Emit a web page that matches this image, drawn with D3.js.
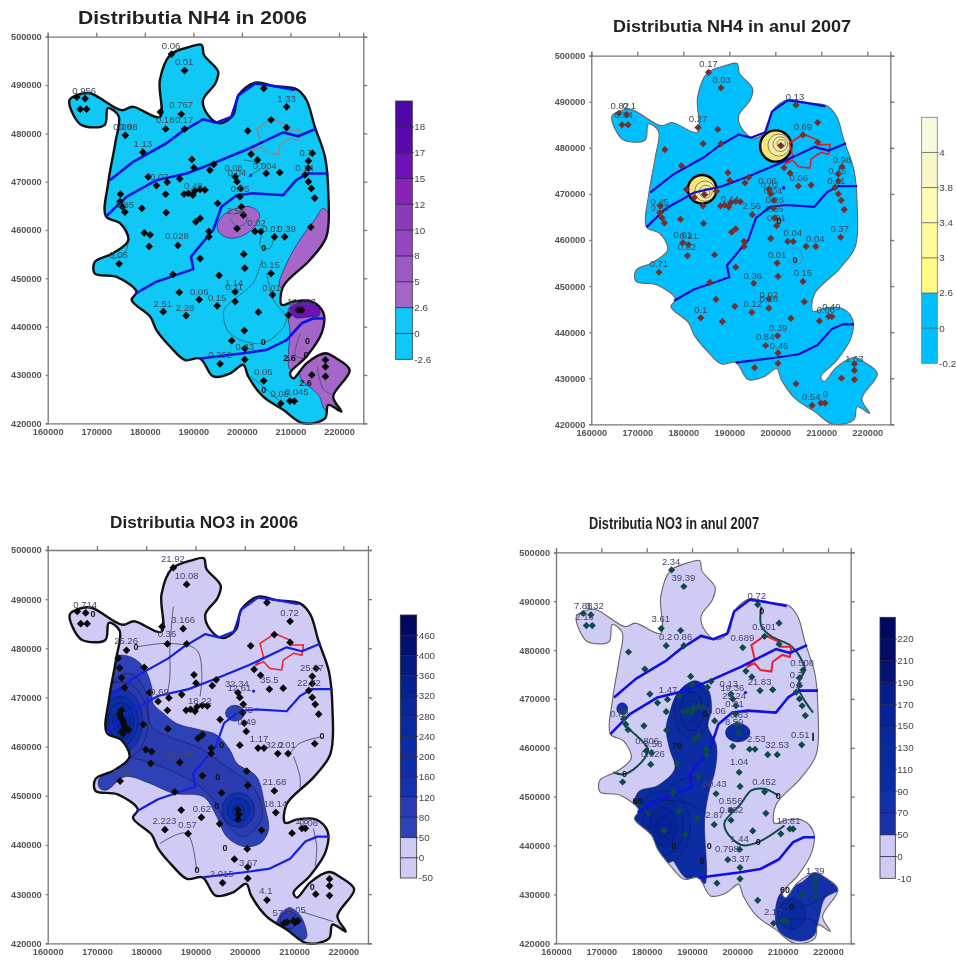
<!DOCTYPE html>
<html><head><meta charset="utf-8">
<style>html,body{margin:0;background:#fff}svg{display:block;filter:blur(.45px)}text{font-family:"Liberation Sans",Arial,sans-serif}</style>
<script src="https://cdnjs.cloudflare.com/ajax/libs/d3/7.8.5/d3.min.js"></script>
</head><body><svg id="c" width="956" height="961"></svg>
<script>
// All map coordinates in kilometres (axis value / 1000)
const X_TICKS=[160,170,180,190,200,210,220];
const Y_TICKS=[420,430,440,450,460,470,480,490,500];
const BOUNDARY=[[185.2,496.2],[189.3,497.9],[191.7,498.3],[192.2,496.2],[195.1,492.8],[194.5,490.3],[192,486.9],[193,483.8],[195.5,482.1],[198.2,483.8],[199.3,487.9],[202.7,490.5],[206.5,489.8],[211.3,489.1],[213.3,486.9],[215,481.4],[217.1,475.2],[217.8,467.6],[217.4,458.6],[214,453.8],[208.5,448.3],[208.2,444.5],[210.6,445.2],[214.4,445.2],[216.8,442.8],[216.4,438.6],[213.3,433.8],[209.9,430.3],[210.6,429.3],[213.3,432.4],[217.1,434.5],[219.5,433.4],[222.2,431],[218.8,425.5],[220.5,422.4],[217.8,423.8],[217.1,421],[212.6,420],[208.5,422.8],[204.4,425.5],[201.3,429.7],[200.3,432.1],[197.5,430.3],[194.1,429.7],[191.4,433.4],[188.3,433.1],[185.2,435.9],[182.4,439.3],[181.1,442.1],[177.3,445.5],[178.3,447.2],[174.2,450.3],[169.7,451],[169.7,453.4],[173.5,455.2],[176.6,457.9],[174.9,461.4],[172,462.8],[172.5,470],[173.9,477.9],[174.6,483.6],[172.4,485.2],[171.7,481.7],[167,481.7],[165.3,483.8],[164.5,486.9],[166,487.9],[168.7,488.3],[175.2,484.8],[177.5,485.5],[183.1,483.4],[183.1,491]];
const RIVER_1=[[172.8,470.3],[177.6,474.1],[184.4,477.9],[187.6,480.3],[192,482.9],[194.7,482.2],[197.8,483.4],[199.3,487.9],[202.7,490.3],[206.5,489.8],[210.9,489]];
const RIVER_2=[[172,462.8],[176.3,466.9],[182.4,470.3],[188.6,471.7],[194.1,473.8],[200.9,476.6],[208.5,480.2],[211.6,479.4],[215.4,481]];
const RIVER_3=[[178,446.8],[182.4,449.3],[190,451.9],[189.5,454.5],[194.1,460],[195.8,464.8],[198.9,467.2],[202.3,467.6],[208.5,467.2],[211.2,470.3],[213.6,471.7],[217.8,471.7]];
const RIVER_4=[[191.4,433.4],[200.3,434.5],[205.1,435.2],[209.2,437.2],[212.3,440.7],[214.7,441.7],[217.1,441.7]];
const RIVERS=[RIVER_1,RIVER_2,RIVER_3,RIVER_4];
const BLUE_DOT=[201.8,471.3];
const TOWN=[[202.1,476.5],[203.8,478.3],[203.1,481],[206.1,483],[209.2,481.7],[209.5,480.7],[211.9,480.7],[211.6,478.6],[209.9,479],[207.8,477.6],[207.5,475.6],[205.1,475.9],[203.8,477.3]];
const WELLS=[[185.5,496.4],[188.2,493],[166,487.5],[167.7,487.2],[166.7,485],[168,485],[183.2,484.4],[187.5,484],[184.3,480.9],[188.2,480.9],[176,479.6],[179.6,476.1],[189.7,474.6],[190.1,472.9],[193.4,472.4],[194.2,473.6],[180.7,471],[182.4,469.2],[184.6,469.9],[187.2,470.6],[184.3,467.4],[188.1,467.4],[189,467.6],[189.9,467.2],[190.3,468.1],[191.4,468.4],[192.4,468.3],[175,467.4],[174.9,465.9],[175.4,464.8],[175.9,463.7],[179.4,464.5],[184.4,463.6],[195,465.5],[191.4,462.4],[190.5,461.7],[179.9,459.4],[181.1,459],[180.9,456.6],[186.8,456.8],[193.2,459.7],[193.2,458.6],[174.7,453],[191.4,454.1],[185.8,450.8],[195.3,450.6],[187.1,447.1],[191.2,445.6],[183.8,443.1],[188.5,442.3],[194.9,444.3],[198.6,447.2],[198.6,445.2],[203.4,443],[200.5,439.2],[197.9,437.1],[200.6,435.5],[200.6,433.2],[195.5,432.3],[204.5,428.8],[208,424.1],[209.9,424.6],[210.8,424.6],[214.4,430],[217.2,433.1],[217.2,431.7],[217.2,429.7],[209.6,442.4],[211.6,443.4],[212.3,443.4],[206.3,446.6],[206,451],[200.6,452.1],[200.4,455],[199,460.3],[202.7,459.7],[203.9,459.7],[206.7,458.6],[208.8,458.6],[214.2,460.6],[215,466.6],[214.3,468.6],[213.7,470],[213,471.4],[213.7,474.3],[213.7,472.8],[214.5,475.9],[209.2,481.2],[209.2,485.5],[206,482.8],[204.5,489.3],[201.2,480.5],[201.9,475.7],[203.2,474.5],[205,471.7],[207.8,471.9],[198.6,471],[199,470],[199.7,468.6],[199.6,466.9],[199.9,464.8],[200.3,463.1]];
const EXTRA_WELLS_NO3_06=[[175,463],[175.6,464.2],[174.6,466.6],[175.2,465.4],[176.4,463.4],[174.6,476],[175,474],[175.6,472],[174.3,478],[198.8,446.2],[208.6,424.3],[210.2,424.2],[175.3,462.6]];

// NH4 2006 colour bar
const NH406_LABELS=["-2.6","0","2.6","5","8","10","12","15","17","18"];
const NH406_COLORS=["#10C8F6","#10C8F6","#A566C8","#9C5AC6","#9448BE","#8A3CB8","#8A22B8","#6E12B8","#5A08B0","#4E08A8"];
// NH4 2007 colour bar
const NH407_LABELS=["-0.2","0","2.6","3","3.4","3.8","4"];
const NH407_COLORS=["#00BFFF","#00BFFF","#FFFA88","#FFFB9C","#FFFCB4","#F6F8C8","#F8FAE0"];
// NO3 2006 colour bar
const NO306_LABELS=["-50","0","50","80","120","160","200","240","280","320","360","400","460"];
const NO306_COLORS=["#CFCBF5","#CFCBF5","#2E42B8","#2A3CB0","#1232AE","#0C2EA8","#0A2CA4","#0A2AA0","#082698","#062090","#041A80","#021070","#000860"];
// NO3 2007 colour bar
const NO307_LABELS=["-10","0","50","70","90","110","130","150","170","190","210","220"];
const NO307_COLORS=["#CFCBF5","#CFCBF5","#1A30A8","#1230A8","#0C2CA4","#0A2AA0","#08289C","#062498","#061E8C","#041470","#020C66","#000860"];

// Filled bands: [colour index, outline]
const NH406_BLOB=[[194.9,460.7],[196.2,463.1],[198.9,464.5],[201.7,464.8],[203.6,463.4],[203.1,461.4],[201,459.3],[198.2,458.3],[195.8,459]];
const NH406_EAST=[[216.8,464.5],[218.5,462],[218,457],[214,453.5],[208.5,447.8],[207.7,448.6],[209.2,453.1],[211.9,457.9],[215,462.1]];
const NH406_SE=[[209.8,444.1],[214.7,446],[217.5,443],[217,438.6],[213.3,433.3],[209.9,431.2],[209.6,434.5],[209.9,438.6]];
const NH406_SE_DARK=[[209.9,443.8],[215,445.6],[216,442.4],[213.5,442],[211,441.9]];
const NH406_FAR=[[212,431],[216,434],[219.5,434],[223,431],[219,425],[220,422],[217.1,422.8],[216,425.5],[214.4,427.2],[212.3,429]];
const NH406_BANDS=[[2,NH406_BLOB],[2,NH406_EAST],[2,NH406_SE],[7,NH406_SE_DARK],[2,NH406_FAR]];
const NH406_LINES=[[[173.5,462.1],[175.9,460.7],[176.6,457.9],[175.6,454.8],[173.2,454.1]],[[204.2,459.3],[203.8,456.6],[205.8,456.2],[206.5,458.6]],[[204.1,453.8],[202.3,449],[198.2,445.5],[196.3,443.4],[197.5,438.6],[204.4,436.6],[209.2,441.4],[206.5,445.5],[205.1,451]],[[200.3,474.5],[204.4,473.4],[201.2,471]],[[201.9,429.7],[207.6,424.8]],[[197.5,462.5],[199,460.7],[201,461.8],[200.3,463.6],[198.2,463.2]],[[212,438.5],[211,434],[213,433.5]],[[215.5,431.8],[216.8,427],[218.5,426]]];
const NH406_MARKS=[[204.5,456.4,"0"],[204.4,436.8,"0"],[204.5,427,"0"],[209.8,433.5,"2.6"],[213.1,428.3,"2.6"],[213.5,437,"0"],[213.2,434.2,"0"]];

const NH407_LINES=[[[203.3,458.2],[205,458],[206,456],[204.5,454.5],[202.5,455.5]]];
const NH407_MARKS=[[204.3,455.6,"0"],[200.8,464.1,"0"]];
const NH407_SPOTS=[[200.1,480.4,3.4,3.4],[184.1,471,3.1,3.1]];
const NH407_SPOT_RINGS=[[200.8,480.6,2.4,2.4],[201.1,480.8,1.6,1.6],[201.3,480.9,.9,.9],[184.7,470.6,2.2,2.2],[184.9,470.5,1.4,1.4],[185,470.4,.8,.8]];

const NO306_OUTER=[[173.7,478.3],[176.7,478.3],[179.4,476.3],[181.1,472.2],[181.4,468.8],[183.5,466.8],[186.2,464.7],[191,463.4],[194.3,462.4],[197,459.3],[198.4,456.6],[202.4,453.9],[204.1,447.8],[204.8,443],[203.1,440.3],[199.7,439.7],[196.3,441.7],[194.3,445.8],[191.6,449.8],[185.5,450.5],[180.8,452.5],[175.7,453.9],[172,451.2],[170.6,451.5],[170.3,453.2],[172.7,455.3],[175,457.3],[174.3,460],[171.9,463.4],[171,464.7],[171.3,466.8],[173,470.2],[173.3,474.2]];
const NO306_INNER=[[173.7,473.6],[176.7,474.9],[179.8,471.5],[181.1,464.1],[184.8,462],[190.9,459.7],[196.3,455.9],[201.1,452.5],[203.1,449.2],[203.4,445.1],[199.7,441.7],[196.3,444.4],[193.6,449.2],[190,452.5],[185.5,454.9],[180.1,457],[175.7,458.3],[173.7,460.7],[171.3,463.9],[172,466.8]];
const NO306_SOUTH=[[206,421],[207.2,425.8],[209,427.2],[211,426],[212.4,423],[212.4,421]];
const NO306_BANDS=[[2,NO306_OUTER],[3,NO306_INNER],[2,NO306_SOUTH]];
const NO306_RINGS=[[3,174.8,465.2,5.6,8],[4,174.8,465.2,4.5,6.5],[5,174.8,465.2,3.5,5],[6,174.9,465.2,2.6,3.8],[7,175,465,1.8,2.6],[8,175,465,1,1.5],[2,198,466.8,1.9,1.6],[4,198.7,447.1,3.3,3.5],[5,198.7,447.1,2.3,2.4],[6,198.7,447,1.2,1.3],[3,208.9,424.7,1.7,1.8]];
const NO306_LINES=[[[185.5,488.5],[184.8,480.3],[184.8,474.2],[184.2,470.2]],[[178.1,480.3],[184.8,481],[190.2,479.7],[191.3,474.9],[190.9,470.2]],[[209.9,458],[211.2,453.9],[211.2,451.2]],[[208.9,458.3],[211.2,460.7],[215.6,462]],[[182.8,440.3],[188.2,442.4],[190.2,434.9]],[[211.6,426.4],[218,424.4]],[[213.9,443.4],[214.6,439.7],[214.3,435.6]]];
const NO306_MARKS=[[177.9,480.3,"0"],[215.7,462.1,"0"],[190.3,434.9,"0"],[169.2,487,"0"],[213.7,431.5,"0"],[194.5,453.9,"0"],[195.3,460.3,"0"],[194.3,448,"0"],[196,439.5,"0"]];

const NO307_CENTRAL=[[190.6,473.7],[193.5,472],[194.3,467.9],[193.5,464.5],[195.4,460.4],[195,455],[193.9,451.6],[192.8,445.5],[193.2,434],[192.8,432.2],[191,433.6],[188.8,433.3],[184.7,438.7],[181,442.8],[177.4,445.5],[178.1,450.9],[182.5,452.3],[186.2,455.7],[185.1,459.7],[184.3,463.8],[185.1,467.2],[186.9,471.3]];
const NO307_SE=[[209.3,429.9],[214.4,432.6],[217.4,434.8],[219.8,434.3],[222.5,431.2],[219.3,429.2],[218,425.1],[216.8,421.5],[213.4,420.5],[209,422.8]];
const NO307_BANDS=[[4,NO307_CENTRAL],[3,NO307_SE]];
const NO307_RINGS=[[5,189.9,467.5,3.8,5.6],[6,189.9,467.5,2.6,4],[5,189.9,467.5,1.5,2.2],[5,183.6,443.8,6,7.5],[6,183.6,443.8,4.6,5.8],[7,183.6,443.8,3,4],[7,183.6,443.8,1.6,2],[3,174.6,468,1.2,1.2],[4,200.1,463.1,2.7,1.9],[5,212,426,3,3.2]];
const NO307_THIN=[[[185,452],[190,454],[193.9,451.6]],[[180,449],[188,449],[192.5,447]],[[210,427],[216,428],[220,430]],[[211,425],[217,424.5],[218,422]]];
const NO307_LINES=[[[205.3,488.9],[205.3,484.9],[207.5,482.8],[211.9,480.8],[214.5,477.4],[214.9,476],[213.4,472.6],[216.7,467.2]],[[175.1,464.5],[180.3,459.7],[178.8,457],[175.1,454.6],[172.6,455]],[[209,450.2],[206,451.6],[203.1,451.3],[200.5,448.2],[197.2,444.8],[197.6,442.8],[200.9,440.1],[204.6,440.7],[210.4,444.1]],[[216.7,463.1],[216.7,461.4]],[[177.4,449.5],[179.3,447.5],[180.8,446.2]]];
const NO307_MARKS=[[205.4,488,"0"],[175.1,454.6,"0"],[209,450.2,"0"],[204.6,440.7,"0"],[193.8,439.9,"0"],[192.2,436.8,"0"],[186,440,"0"],[212,427.5,"0"],[210.5,431,"60"],[178,449.2,"60"],[193,467,"0"],[186.7,460.3,"70"]];

// Text labels at wells: [x, y, text]
const NH406_TEXT=[[185.4,498.1,"0.06"],[188.1,494.8,"0.01"],[167.5,488.9,"0.956"],[187.5,485.9,"0.767"],[184.2,482.8,"0.18"],[188.1,482.8,"0.17"],[209.2,487.2,"1.33"],[175.4,481.4,"0.08"],[176.6,481.4,"0.08"],[179.6,477.8,"1.13"],[213.2,475.9,"0.7"],[183,471,"0.07"],[198.3,472.9,"0.08"],[199,471.8,"0.04"],[204.7,473.3,"0.004"],[212.9,472.9,"0.14"],[190,469.1,"0.48"],[199.6,468.6,"0.05"],[175.9,465.2,"0.85"],[198.8,464,"2.56"],[203,461.6,"0.02"],[206.1,460.3,"0.01"],[209.2,460.3,"0.39"],[186.6,458.8,"0.028"],[174.6,454.8,"0.05"],[205.9,452.8,"0.15"],[198.4,449,"1.14"],[198.4,448.2,"0.11"],[191.2,447.2,"0.06"],[194.9,446,"0.15"],[206.1,448.1,"0.01"],[212.3,445.2,"10.703"],[183.7,444.8,"2.51"],[188.3,444,"2.28"],[200.6,435.9,"0.43"],[204.4,430.7,"0.06"],[195.5,434.1,"0.292"],[207.8,426.2,"0.08"],[211.3,426.5,"0.045"]];
const NH407_TEXT=[[185.5,498.2,"0.17"],[188.3,494.9,"0.03"],[166.2,489.1,"0.82"],[168.3,489.1,"0.1"],[167,487.1,"0.34"],[183.2,486.3,"0.27"],[204.3,491.1,"0.13"],[206,484.6,"0.69"],[214.5,477.5,"0.98"],[213.5,475,"0.45"],[213.3,472.9,"0.11"],[205.1,473.5,"0.06"],[198.3,472.9,"0.06"],[198.8,472,"0.02"],[199.5,470.7,"0.04"],[174.9,468.3,"0.85"],[174.9,467,"0.83"],[190.1,469,"0.44"],[194.9,467.4,"2.56"],[199.9,468.7,"0.26"],[199.8,466.7,"0.65"],[200.2,464.9,"0.01"],[203.8,461.6,"0.04"],[208.7,460.3,"0.04"],[214,462.5,"0.37"],[179.9,461.2,"0.01"],[181.2,460.9,"0.21"],[180.8,458.5,"0.82"],[200.4,456.8,"0.01"],[174.7,454.8,"0.71"],[195.1,452.3,"0.36"],[206,452.9,"0.15"],[198.6,448.1,"0.02"],[198.6,447.2,"0.18"],[195.1,446.1,"0.12"],[183.8,444.9,"0.1"],[212.2,445.5,"0.49"],[211,444.8,"0.06"],[200.6,441,"0.39"],[197.8,439,"0.84"],[200.8,437,"0.45"],[217.2,434.2,"1.63"],[207.8,426,"0.54"],[210.9,426.6,"0"]];
const NO306_TEXT=[[185.4,498.2,"21.92"],[188.2,494.8,"10.08"],[167.6,488.9,"0.714"],[187.5,485.8,"3.166"],[209.1,487.3,"0.72"],[184.2,482.9,"0.36"],[175.9,481.6,"25.26"],[213.6,476.1,"25.37"],[205,473.6,"35.5"],[198.4,472.9,"32.34"],[198.9,471.9,"12.61"],[213,473,"22.72"],[182.7,471.2,"0.69"],[190.9,469.3,"18.22"],[199.8,467.6,"8.75"],[200.4,465.1,"0.49"],[202.9,461.6,"1.17"],[206.1,460.5,"32.2"],[208.5,460.5,"0.01"],[186.9,458.6,"125.85"],[175,454.7,"3.05"],[206,452.9,"21.68"],[206.2,448.3,"18.14"],[191.3,447.3,"0.62"],[183.7,444.9,"2.223"],[188.4,444.1,"0.57"],[211.6,444.9,"1.8"],[213,444.6,"0.08"],[200.7,436.3,"3.67"],[195.3,434.1,"2.015"],[204.3,430.8,"4.1"],[207.5,426.3,"57.1"],[210.5,426.8,"0.05"]];
const NO307_TEXT=[[185.4,498.1,"2.34"],[188.1,494.9,"39.39"],[166,489.1,"7.88"],[168.5,489.1,"3.32"],[166.3,486.9,"2.16"],[183.1,486.4,"3.61"],[184.2,482.8,"0.2"],[188,482.8,"0.86"],[204.3,491.2,"0.72"],[205.9,484.7,"0.501"],[201.1,482.5,"0.689"],[204.9,473.5,"21.83"],[214.3,477.5,"0.508"],[213,475,"0.7"],[213,473,"0.5"],[184.7,471.8,"1.47"],[198.1,473.1,"0.13"],[198.9,472.2,"19.36"],[199.3,470.6,"29.24"],[199.4,469,"0.01"],[174,467,"0.82"],[195.4,467.5,"0.06"],[200.4,466.7,"0.83"],[199.3,465.3,"8.59"],[213.9,462.7,"0.51"],[204.2,461.8,"2.53"],[208.8,460.6,"32.53"],[180.1,461.4,"0.806"],[181.4,460.9,"0.58"],[181.4,458.7,"0.026"],[200.4,457.2,"1.04"],[205.9,453.1,"0.452"],[195,452.6,"60.43"],[198.5,449.2,"0.556"],[198.7,447.4,"0.882"],[195,446.3,"2.87"],[211.3,445.1,"18.81"],[200.5,441.4,"1.44"],[197.7,439.4,"0.798"],[200.7,437.3,"3.37"],[217.2,434.8,"1.39"],[207.9,426.5,"2.17"]];

const PANELS=[
 {title:"Distributia NH4 in 2006",tx:78,tw:229,ty:24,fs:18,px:[47.7,339],py:[36.7,423.3],bar:[395.7,412.3,101,359.3],labels:NH406_LABELS,colors:NH406_COLORS,base:"#10C8F6",bands:NH406_BANDS,rings:[],lines:NH406_LINES,thin:[],marks:NH406_MARKS,text:NH406_TEXT,well:"#0a0a0a",ws:30,outline:["#111",2.4],river:["#0A14E0",2.6],town:["#8a8a8a",1.5],lineC:"#1d5566",lineW:.7,extra:[]},
 {title:"Distributia NH4 in anul 2007",tx:613,tw:238,ty:31.7,fs:16,px:[591.3,867.3],py:[55.7,424.3],bar:[921.7,937.3,117.3,363.3],labels:NH407_LABELS,colors:NH407_COLORS,base:"#00BFFF",bands:[],rings:[],lines:NH407_LINES,thin:[],marks:NH407_MARKS,text:NH407_TEXT,well:"#74302e",ws:26,outline:["#666",1.1],river:["#1208C8",2.2],town:["#D8202A",1.7],lineC:"#777",lineW:.7,extra:[],spots:NH407_SPOTS,spotRings:NH407_SPOT_RINGS},
 {title:"Distributia NO3 in 2006",tx:110,tw:188,ty:527.7,fs:16,px:[47.7,343.3],py:[550,943.3],bar:[400.3,416.7,615,878],labels:NO306_LABELS,colors:NO306_COLORS,base:"#CFCBF5",bands:NO306_BANDS,rings:NO306_RINGS,lines:NO306_LINES,thin:[],marks:NO306_MARKS,text:NO306_TEXT,well:"#0a0a0a",ws:30,outline:["#111",2.4],river:["#1620E0",2.2],town:["#E8202E",1.5],lineC:"#2a2a50",lineW:.7,extra:EXTRA_WELLS_NO3_06},
 {title:"Distributia NO3 in anul 2007",tx:589,tw:170,ty:529,fs:16.5,px:[556,828],py:[552.3,943.3],bar:[880,895.3,617.3,878.3],labels:NO307_LABELS,colors:NO307_COLORS,base:"#CFCBF5",bands:NO307_BANDS,rings:NO307_RINGS,lines:NO307_LINES,thin:NO307_THIN,marks:NO307_MARKS,text:NO307_TEXT,well:"#0e4a48",ws:26,outline:["#666",1.1],river:["#1010E0",2.6],town:["#E8202E",2],lineC:"#0e4a48",lineW:2,extra:[]}
];

const svg=d3.select("#c");
PANELS.forEach((p,i)=>{
  const g=svg.append("g");
  const x=d3.scaleLinear().domain([160,220]).range(p.px);
  const y=d3.scaleLinear().domain([500,420]).range(p.py);
  const smooth=d3.line().x(d=>x(d[0])).y(d=>y(d[1])).curve(d3.curveCatmullRomClosed.alpha(.5));
  const open=d3.line().x(d=>x(d[0])).y(d=>y(d[1])).curve(d3.curveCatmullRom.alpha(.5));
  const straight=d3.line().x(d=>x(d[0])).y(d=>y(d[1])).curve(d3.curveLinearClosed);
  const wob=d3.line().x(d=>x(d[0])).y(d=>y(d[1])).curve(d3.curveLinear);

  g.append("text").attr("x",p.tx).attr("y",p.ty).attr("font-size",p.fs).attr("font-weight","bold").attr("fill","#222")
   .attr("textLength",p.tw).attr("lengthAdjust","spacingAndGlyphs").text(p.title);

  // fills clipped to the boundary
  g.append("clipPath").attr("id","clip"+i).append("path").attr("d",smooth(BOUNDARY));
  g.append("path").attr("d",smooth(BOUNDARY)).attr("fill",p.base);
  const cl=g.append("g").attr("clip-path",`url(#clip${i})`);
  cl.selectAll(".b").data(p.bands).join("path").attr("d",d=>smooth(d[1])).attr("fill",d=>p.colors[d[0]]).attr("stroke","#1a1a55").attr("stroke-width",.6);
  cl.selectAll(".r").data(p.rings).join("ellipse")
    .attr("cx",d=>x(d[1])).attr("cy",d=>y(d[2]))
    .attr("rx",d=>Math.abs(x(d[1]+d[3])-x(d[1]))).attr("ry",d=>Math.abs(y(d[2]+d[4])-y(d[2])))
    .attr("fill",d=>p.colors[d[0]]).attr("stroke","#0c1a66").attr("stroke-width",.6);
  cl.selectAll(".t").data(p.thin).join("path").attr("d",open).attr("fill","none").attr("stroke","#0c1a66").attr("stroke-width",.6);

  // contour lines
  g.selectAll(".l").data(p.lines).join("path").attr("d",open).attr("fill","none").attr("stroke",p.lineC).attr("stroke-width",p.lineW);

  // yellow spots
  if(p.spots){
    g.selectAll(".s").data(p.spots).join("ellipse").attr("cx",d=>x(d[0])).attr("cy",d=>y(d[1]))
     .attr("rx",d=>Math.abs(x(d[0]+d[2])-x(d[0]))).attr("ry",d=>Math.abs(y(d[1]+d[3])-y(d[1])))
     .attr("fill","#F4E77A").attr("stroke","#000").attr("stroke-width",2.4);
    g.selectAll(".sr").data(p.spotRings).join("ellipse").attr("cx",d=>x(d[0])).attr("cy",d=>y(d[1]))
     .attr("rx",d=>Math.abs(x(d[0]+d[2])-x(d[0]))).attr("ry",d=>Math.abs(y(d[1]+d[3])-y(d[1])))
     .attr("fill","#F7EDA0").attr("stroke","#555").attr("stroke-width",.7);
  }

  g.append("path").attr("d",smooth(BOUNDARY)).attr("fill","none").attr("stroke",p.outline[0]).attr("stroke-width",p.outline[1]);
  g.append("path").attr("d",straight(TOWN)).attr("fill","none").attr("stroke",p.town[0]).attr("stroke-width",p.town[1]);
  g.selectAll(".rv").data(RIVERS).join("path").attr("d",wob).attr("fill","none").attr("stroke",p.river[0]).attr("stroke-width",p.river[1]).attr("stroke-linejoin","round");
  g.append("circle").attr("cx",x(BLUE_DOT[0])).attr("cy",y(BLUE_DOT[1])).attr("r",1.6).attr("fill",p.river[0]);

  // wells
  const sym=d3.symbol().type(d3.symbolSquare).size(p.ws);
  g.selectAll(".w").data(WELLS.concat(p.extra)).join("path").attr("d",sym)
   .attr("transform",d=>`translate(${x(d[0])},${y(d[1])}) rotate(45)`).attr("fill",p.well);

  // value labels
  g.selectAll(".v").data(p.text).join("text").attr("x",d=>x(d[0])).attr("y",d=>y(d[1])).attr("dy",".35em")
   .attr("text-anchor","middle").attr("font-size",9.5).attr("fill",i===2||i===3?"#4a4470":"#3c4a58").text(d=>d[2]);
  g.selectAll(".m").data(p.marks).join("text").attr("x",d=>x(d[0])).attr("y",d=>y(d[1])).attr("dy",".35em")
   .attr("text-anchor","middle").attr("font-size",9).attr("font-weight","bold").attr("fill","#111").text(d=>d[2]);

  // axes
  const xf=d3.scaleLinear().domain([160,225]).range([x(160),x(225)]);
  const yf=d3.scaleLinear().domain([420,500]).range([y(420),y(500)]);
  const fmt=d=>d*1000;
  const sty=a=>{a.selectAll("path,line").attr("stroke","#777").attr("stroke-width",1.3);a.selectAll("text").attr("fill","#555").attr("font-size",9.2).attr("font-family",'"Liberation Sans",Arial,sans-serif').attr("font-weight","bold");};
  g.append("g").attr("transform",`translate(0,${y(420)})`).call(d3.axisBottom(xf).tickValues(X_TICKS).tickFormat(fmt).tickSize(0).tickPadding(5)).call(sty);
  g.append("g").attr("transform",`translate(0,${y(500)})`).call(d3.axisTop(xf).tickValues(X_TICKS).tickFormat("").tickSize(4)).call(sty);
  g.append("g").attr("transform",`translate(${x(160)},0)`).call(d3.axisLeft(yf).tickValues(Y_TICKS).tickFormat(fmt).tickSize(2).tickPadding(4)).call(sty);
  g.append("g").attr("transform",`translate(${x(225)},0)`).call(d3.axisRight(yf).tickValues(Y_TICKS).tickFormat("").tickSize(4)).call(sty);

  // colour bar
  const [b0,b1,t,b]=p.bar;
  const n=p.colors.length;
  const by=d3.scaleLinear().domain([0,n]).range([b,t]);
  g.selectAll(".cb").data(p.colors).join("rect").attr("x",b0).attr("width",b1-b0)
   .attr("y",(d,k)=>by(k+1)).attr("height",(d,k)=>by(k)-by(k+1)).attr("fill",d=>d);
  g.selectAll(".cl").data(p.labels.slice(1)).join("line").attr("x1",b0).attr("x2",b1+1.5)
   .attr("y1",(d,k)=>by(k+1)).attr("y2",(d,k)=>by(k+1)).attr("stroke",i===1?"#555":"#1a1a44").attr("stroke-width",.8);
  g.append("rect").attr("x",b0).attr("y",t).attr("width",b1-b0).attr("height",b-t).attr("fill","none").attr("stroke",i===1?"#777":"#333").attr("stroke-width",.8);
  g.selectAll(".ct").data(p.labels).join("text").attr("x",b1+2).attr("y",(d,k)=>by(k)).attr("dy",".35em")
   .attr("font-size",9.8).attr("fill","#444").text(d=>d);
});
</script></body></html>
